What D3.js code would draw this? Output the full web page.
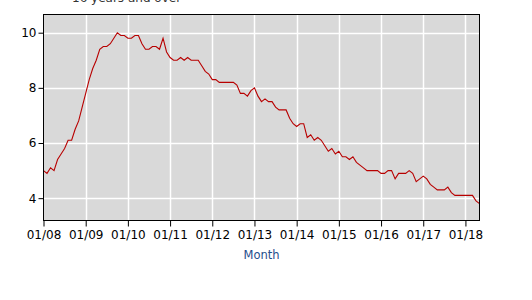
<!DOCTYPE html>
<html>
<head>
<meta charset="utf-8">
<script src="https://cdn.jsdelivr.net/npm/d3@7"></script>
<style>
  html, body { margin: 0; padding: 0; background: #fff; }
  svg { display: block; }
  text { font-family: "DejaVu Sans", Verdana, sans-serif; }
</style>
</head>
<body>
<svg id="chart" width="532" height="300"></svg>
<script>
// Data (monthly, starting 01/2008)
const startYear = 2008;
const values = [
  5.0, 4.9, 5.1, 5.0, 5.4, 5.6, 5.8, 6.1, 6.1, 6.5, 6.8, 7.3,
  7.8, 8.3, 8.7, 9.0, 9.4, 9.5, 9.5, 9.6, 9.8, 10.0, 9.9, 9.9,
  9.8, 9.8, 9.9, 9.9, 9.6, 9.4, 9.4, 9.5, 9.5, 9.4, 9.8, 9.3,
  9.1, 9.0, 9.0, 9.1, 9.0, 9.1, 9.0, 9.0, 9.0, 8.8, 8.6, 8.5,
  8.3, 8.3, 8.2, 8.2, 8.2, 8.2, 8.2, 8.1, 7.8, 7.8, 7.7, 7.9,
  8.0, 7.7, 7.5, 7.6, 7.5, 7.5, 7.3, 7.2, 7.2, 7.2, 6.9, 6.7,
  6.6, 6.7, 6.7, 6.2, 6.3, 6.1, 6.2, 6.1, 5.9, 5.7, 5.8, 5.6,
  5.7, 5.5, 5.5, 5.4, 5.5, 5.3, 5.2, 5.1, 5.0, 5.0, 5.0, 5.0,
  4.9, 4.9, 5.0, 5.0, 4.7, 4.9, 4.9, 4.9, 5.0, 4.9, 4.6, 4.7,
  4.8, 4.7, 4.5, 4.4, 4.3, 4.3, 4.3, 4.4, 4.2, 4.1, 4.1, 4.1,
  4.1, 4.1, 4.1, 3.9, 3.8
];
const yTicks = [4, 6, 8, 10];
const xTickLabels = ["01/08","01/09","01/10","01/11","01/12","01/13","01/14","01/15","01/16","01/17","01/18"];
const titleText = "16 years and over";
const xAxisTitle = "Month";

const svg = d3.select("#chart");
const L = 43.5, R = 479.5, T = 14.5, B = 220.5;

const x = d3.scaleLinear().domain([0, values.length - 1]).range([L, R]);
const y = d3.scaleLinear().domain([3.19, 10.66]).range([B, T]);
const xTickIdx = xTickLabels.map((d, i) => i * 12);

// partially visible title at top
svg.append("text").attr("x", 72).attr("y", 1.5)
  .attr("font-size", 12).attr("fill", "#333")
  .text(titleText);

// plot background
svg.append("rect").attr("x", L).attr("y", T).attr("width", R - L).attr("height", B - T)
  .attr("fill", "#d9d9d9");

// gridlines
svg.append("g").selectAll("line").data(yTicks).join("line")
  .attr("x1", L).attr("x2", R).attr("y1", d => Math.round(y(d)) + 0.5).attr("y2", d => Math.round(y(d)) + 0.5)
  .attr("stroke", "#fff").attr("stroke-width", 1.5);
svg.append("g").selectAll("line").data(xTickIdx.slice(1)).join("line")
  .attr("y1", T).attr("y2", B).attr("x1", d => Math.round(x(d)) + 0.5).attr("x2", d => Math.round(x(d)) + 0.5)
  .attr("stroke", "#fff").attr("stroke-width", 1.5);

// line
const line = d3.line().x((d, i) => x(i)).y(d => y(d));
svg.append("path").datum(values)
  .attr("d", line).attr("fill", "none")
  .attr("stroke", "#b80000").attr("stroke-width", 1.1);

// border
svg.append("rect").attr("x", L).attr("y", T).attr("width", R - L).attr("height", B - T)
  .attr("fill", "none").attr("stroke", "#000").attr("stroke-width", 1);

// y axis
const yAxis = d3.axisLeft(y).tickValues(yTicks).tickSize(5).tickPadding(2).tickFormat(d3.format("d"));
const gy = svg.append("g").attr("transform", `translate(${L},0)`).call(yAxis);
gy.select(".domain").remove();
gy.selectAll("text").attr("font-size", 12).attr("fill", "#000").attr("font-family", "DejaVu Sans, Verdana, sans-serif");
gy.selectAll("line").attr("stroke", "#000");

// x axis
const xAxis = d3.axisBottom(x).tickValues(xTickIdx).tickSize(6).tickPadding(4)
  .tickFormat((d, i) => xTickLabels[i]);
const gx = svg.append("g").attr("transform", `translate(0,${B})`).call(xAxis);
gx.select(".domain").remove();
gx.selectAll("text").attr("font-size", 12).attr("fill", "#000").attr("font-family", "DejaVu Sans, Verdana, sans-serif");
gx.selectAll("line").attr("stroke", "#000");

// x axis title
svg.append("text").attr("x", (L + R) / 2).attr("y", 259)
  .attr("text-anchor", "middle").attr("font-size", 11.5).attr("fill", "#1f4e8c")
  .text(xAxisTitle);
</script>
</body>
</html>
